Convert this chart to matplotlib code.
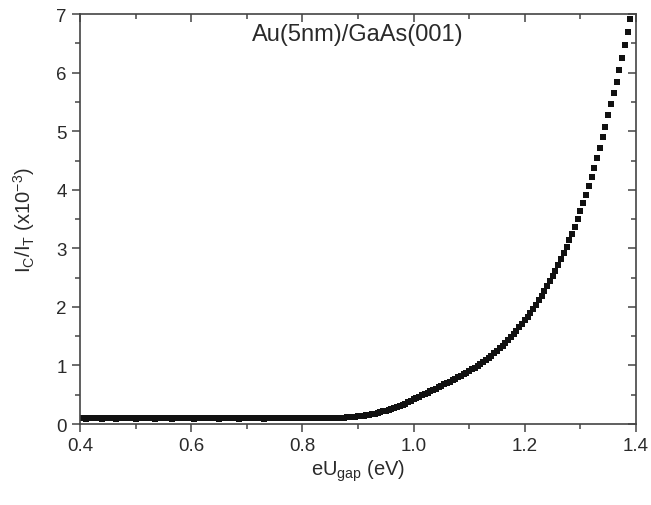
import matplotlib
matplotlib.use("Agg")
import matplotlib.pyplot as plt
from matplotlib.ticker import MultipleLocator, FormatStrFormatter

plt.rcParams['font.family'] = ['Liberation Sans', 'DejaVu Sans']

# photon gap energy (eV), 0.005 eV steps
x_start = 0.40
x_step = 0.005

# collector / tunnel current ratio (x10^-3)
flat_part = [  # 0.400 .. 0.845
    0.10, 0.10, 0.09, 0.10, 0.10, 0.11, 0.10, 0.10, 0.09, 0.10,
    0.10, 0.10, 0.10, 0.09, 0.10, 0.10, 0.11, 0.10, 0.10, 0.10,
    0.09, 0.10, 0.10, 0.10, 0.10, 0.11, 0.10, 0.09, 0.10, 0.10,
    0.10, 0.10, 0.10, 0.09, 0.10, 0.10, 0.10, 0.11, 0.10, 0.10,
    0.10, 0.09, 0.10, 0.10, 0.10, 0.10, 0.10, 0.11, 0.10, 0.10,
    0.09, 0.10, 0.10, 0.10, 0.10, 0.10, 0.10, 0.09, 0.10, 0.10,
    0.10, 0.11, 0.10, 0.10, 0.10, 0.10, 0.09, 0.10, 0.10, 0.10,
    0.10, 0.10, 0.10, 0.10, 0.11, 0.10, 0.10, 0.10, 0.10, 0.10,
    0.10, 0.10, 0.10, 0.10, 0.10, 0.10, 0.10, 0.10, 0.10, 0.10,
]
onset = [  # 0.850 .. 0.995
    0.100, 0.100, 0.105, 0.105, 0.110, 0.110, 0.115, 0.120, 0.120, 0.125,
    0.130, 0.140, 0.145, 0.150, 0.160, 0.170, 0.180, 0.190, 0.200, 0.215,
    0.230, 0.245, 0.260, 0.275, 0.290, 0.310, 0.330, 0.350, 0.375, 0.400,
]
rise = [  # 1.000 .. 1.390
    0.42, 0.44, 0.465, 0.49, 0.51, 0.535, 0.56, 0.58, 0.605, 0.63,
    0.655, 0.68, 0.70, 0.725, 0.75, 0.775, 0.80, 0.825, 0.85, 0.88,
    0.905, 0.935, 0.965, 0.995, 1.03, 1.065, 1.10, 1.135, 1.17, 1.21,
    1.25, 1.295, 1.34, 1.385, 1.435, 1.485, 1.54, 1.595, 1.65, 1.71,
    1.77, 1.83, 1.895, 1.96, 2.03, 2.11, 2.19, 2.27, 2.35, 2.44,
    2.53, 2.62, 2.72, 2.82, 2.92, 3.03, 3.14, 3.25, 3.37, 3.50,
    3.63, 3.77, 3.91, 4.06, 4.22, 4.38, 4.55, 4.72, 4.90, 5.08,
    5.27, 5.46, 5.65, 5.85, 6.05, 6.26, 6.47, 6.69, 6.92,
]
ratio = flat_part + onset + rise
energy = [round(x_start + i * x_step, 3) for i in range(len(ratio))]

fig = plt.figure(figsize=(6.51, 5.06), dpi=100)
ax = fig.add_axes([0.123, 0.160, 0.854, 0.810])

ax.plot(energy, ratio, linestyle='none', marker='s', markersize=4.0,
        color='#111111', markeredgewidth=0)

ax.set_xlim(0.4, 1.4)
ax.set_ylim(0, 7)
ax.xaxis.set_major_locator(MultipleLocator(0.2))
ax.xaxis.set_minor_locator(MultipleLocator(0.1))
ax.yaxis.set_major_locator(MultipleLocator(1))
ax.yaxis.set_minor_locator(MultipleLocator(0.5))
ax.xaxis.set_major_formatter(FormatStrFormatter('%.1f'))

txt = '#2a2a2a'
edge = '#444444'
for s in ax.spines.values():
    s.set_color(edge)
    s.set_linewidth(1.2)

ax.tick_params(axis='both', which='major', direction='out', length=6, width=1.1,
               colors=edge, labelcolor=txt, labelsize=13.5)
ax.tick_params(axis='both', which='minor', direction='out', length=3.8, width=1.1,
               colors=edge)

# inward ticks on the top and right frame
top = ax.secondary_xaxis('top')
top.xaxis.set_major_locator(MultipleLocator(0.2))
top.xaxis.set_minor_locator(MultipleLocator(0.1))
top.tick_params(which='major', direction='in', length=6, width=1.1, colors=edge, labeltop=False)
top.tick_params(which='minor', direction='in', length=3.5, width=1.1, colors=edge)
top.spines['top'].set_visible(False)
right = ax.secondary_yaxis('right')
right.yaxis.set_major_locator(MultipleLocator(1))
right.yaxis.set_minor_locator(MultipleLocator(0.5))
right.tick_params(which='major', direction='in', length=6, width=1.1, colors=edge, labelright=False)
right.tick_params(which='minor', direction='in', length=3.5, width=1.1, colors=edge)
right.spines['right'].set_visible(False)

ax.set_xlabel(r'eU$_{\mathregular{gap}}$ (eV)', fontsize=14.5, color=txt)
ax.xaxis.set_label_coords(0.5, -0.082)
ax.set_ylabel(r'I$_{\mathregular{C}}$/I$_{\mathregular{T}}$ (x10$^{\mathregular{-3}}$)',
              fontsize=14.5, color=txt)
ax.yaxis.set_label_coords(-0.078, 0.5)
ax.text(0.5, 0.978, 'Au(5nm)/GaAs(001)', transform=ax.transAxes, ha='center',
        va='top', fontsize=17, color=txt)

fig.savefig('out.png', dpi=100)
